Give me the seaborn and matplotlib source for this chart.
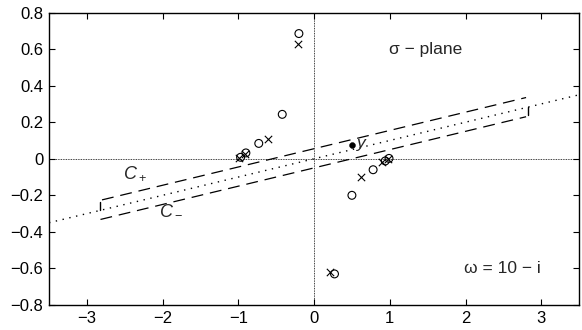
import numpy as np
import pandas as pd
import matplotlib
matplotlib.use("Agg")
import matplotlib.pyplot as plt
import seaborn as sns

# data
circ_x = [-0.20, -0.42, -0.73, -0.90, -0.97, 0.27, 0.50, 0.78, 0.94, 0.99]
circ_y = [0.685, 0.243, 0.084, 0.032, 0.008, -0.630, -0.200, -0.060, -0.012, 0.002]
cross_x = [-0.21, -0.61, -0.91, -0.99, 0.21, 0.62, 0.90, 0.97]
cross_y = [0.626, 0.108, 0.026, 0.002, -0.618, -0.100, -0.018, -0.004]
y_pt = [0.50, 0.075]
line_x = [-3.5, 3.5]
line_y = [-0.35, 0.35]
cplus_x = [-2.80, 2.80]
cplus_y = [-0.225, 0.335]
cminus_x = [-2.82, 2.80]
cminus_y = [-0.332, 0.230]
mark_x = [-2.83, 2.83]
mark_y0 = [-0.283, 0.283]
mark_y1 = [-0.238, 0.238]
xticks = [-3, -2, -1, 0, 1, 2, 3]
yticks = [-0.8, -0.6, -0.4, -0.2, 0, 0.2, 0.4, 0.6, 0.8]

sns.set_theme(style="ticks")
plt.rcParams['font.family'] = ['Liberation Sans', 'DejaVu Sans']
plt.rcParams['mathtext.fontset'] = 'custom'
plt.rcParams['mathtext.it'] = 'Liberation Sans:italic'
plt.rcParams['mathtext.rm'] = 'Liberation Sans'

fig = plt.figure(figsize=(5.82, 3.30), dpi=100)
ax = fig.add_axes([0.0842, 0.0758, 0.9108, 0.8862])

# zero axes
ax.axhline(0, color='black', lw=0.6, ls=(0, (1, 1)), zorder=1)
ax.axvline(0, color='black', lw=0.6, ls=(0, (1, 1)), zorder=1)

df_line = pd.DataFrame({'x': line_x, 'y': line_y})
sns.lineplot(data=df_line, x='x', y='y', ax=ax, color='black', lw=1.0,
             linestyle=(0, (1, 4)), estimator=None, sort=False)
df_cp = pd.DataFrame({'x': cplus_x, 'y': cplus_y})
sns.lineplot(data=df_cp, x='x', y='y', ax=ax, color='black', lw=0.9,
             linestyle=(0, (9.5, 5.5)), estimator=None, sort=False)
df_cm = pd.DataFrame({'x': cminus_x, 'y': cminus_y})
sns.lineplot(data=df_cm, x='x', y='y', ax=ax, color='black', lw=0.9,
             linestyle=(0, (9.5, 5.5)), estimator=None, sort=False)
for mx, a, b in zip(mark_x, mark_y0, mark_y1):
    ax.plot([mx, mx], [a, b], color='black', lw=1.0)

sns.scatterplot(x=circ_x, y=circ_y, ax=ax, marker='o', s=32,
                facecolor='none', edgecolor='black', linewidth=0.8, zorder=3)
sns.scatterplot(x=cross_x, y=cross_y, ax=ax, marker='x', s=28,
                color='black', linewidth=0.8, zorder=3)
sns.scatterplot(x=[y_pt[0]], y=[y_pt[1]], ax=ax, marker='o', s=18,
                color='black', edgecolor='black', zorder=3)

ax.text(0.56, 0.075, '$y$', fontsize=12.5, va='center', ha='left')
ax.text(-2.52, -0.08, '$C_+$', fontsize=13, va='center', ha='left')
ax.text(-2.05, -0.28, '$C_-$', fontsize=13, va='center', ha='left')
ax.text(1.48, 0.60, 'σ − plane', fontsize=12.5, ha='center', va='center')
ax.text(2.49, -0.60, 'ω = 10 − i', fontsize=12.5, ha='center', va='center')

ax.set_xlim(-3.5, 3.5)
ax.set_ylim(-0.8, 0.8)
ax.set_xticks(xticks)
ax.set_yticks(yticks)
ax.set_xticklabels([str(t).replace('-', '−') for t in xticks])
ax.set_yticklabels(['0' if t == 0 else f'{t:.1f}'.replace('-', '−') for t in yticks])
ax.set_xlabel('')
ax.set_ylabel('')
ax.tick_params(direction='in', top=True, right=True, length=4, width=0.8,
               labelsize=12, colors='black', pad=4)
for s in ax.spines.values():
    s.set_linewidth(1.0)
    s.set_color('black')

fig.savefig('out.png', dpi=100)
